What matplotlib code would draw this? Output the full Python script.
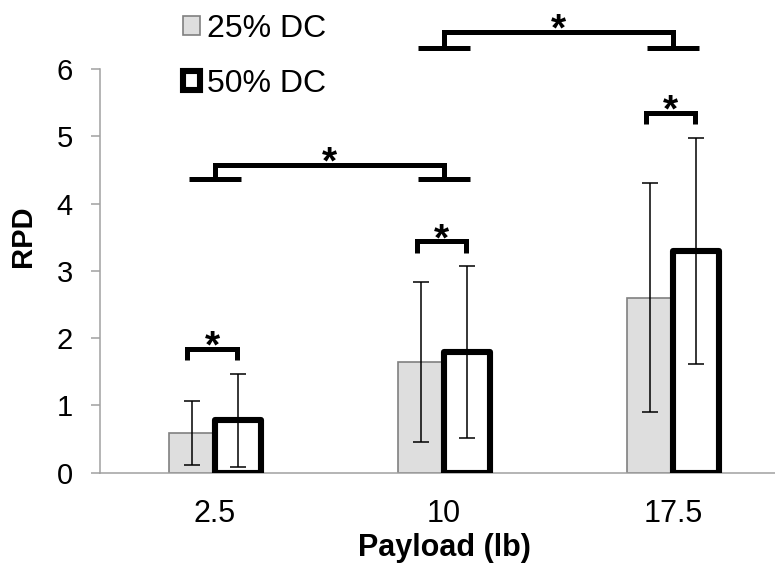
import matplotlib
matplotlib.use('Agg')
import matplotlib.pyplot as plt
import numpy as np

plt.rcParams['font.family'] = ['Liberation Sans', 'DejaVu Sans']

categories = ['2.5', '10', '17.5']
dc25_mean = [0.59, 1.65, 2.60]
dc25_err = [0.48, 1.19, 1.70]
dc50_mean = [0.78, 1.79, 3.30]
dc50_err = [0.69, 1.28, 1.68]
series_labels = ['25% DC', '50% DC']
yticks = [0, 1, 2, 3, 4, 5, 6]

W, H = 775, 563
fig = plt.figure(figsize=(W / 100, H / 100), dpi=100)
ax = fig.add_axes([100 / W, (H - 472.7) / H, 675 / W, (472.7 - 69) / H])

x = np.arange(len(categories))
bw = 0.2
b1 = ax.bar(x - 0.1, dc25_mean, bw, color='#DEDEDE', edgecolor='#808080',
            linewidth=1.2, zorder=2, label=series_labels[0])
b2 = ax.bar(x + 0.1, dc50_mean, bw, color='white', edgecolor='black',
            linewidth=4.4, joinstyle='round', zorder=3, label=series_labels[1])
ax.errorbar(x - 0.1, dc25_mean, yerr=dc25_err, fmt='none', ecolor='black',
            elinewidth=1.1, capsize=5.5, capthick=1.1, zorder=4)
ax.errorbar(x + 0.1, dc50_mean, yerr=dc50_err, fmt='none', ecolor='black',
            elinewidth=1.1, capsize=5.5, capthick=1.1, zorder=4)

ax.set_xlim(-0.502, 2.445)
ax.set_ylim(0, 6)
ax.set_yticks(yticks)
ax.set_xticks(x)
ax.set_xticklabels(categories)
for s in ['top', 'right']:
    ax.spines[s].set_visible(False)
for s in ['left', 'bottom']:
    ax.spines[s].set_color('#A0A0A0')
    ax.spines[s].set_linewidth(1.1)
ax.tick_params(axis='y', direction='out', length=6.5, width=1.1, color='#A0A0A0',
               labelsize=21, pad=13)
ax.tick_params(axis='x', length=0, labelsize=22, pad=19)

LW = 3.6
star_fs = 28


def star(xc, yline):
    ax.annotate('*', xy=(xc, yline), xytext=(0, 9.6 - 0.57 * star_fs),
                textcoords='offset points', ha='center', va='baseline',
                fontsize=star_fs, fontweight='bold', annotation_clip=False)


# small brackets within each payload
for i in range(len(categories)):
    top = dc50_mean[i] + dc50_err[i] + 0.37
    x0, x1 = x[i] - 0.12, x[i] + 0.095
    ax.plot([x0, x0, x1, x1], [top - 0.17, top, top, top - 0.17], color='black',
            lw=LW, solid_joinstyle='miter', solid_capstyle='butt', clip_on=False, zorder=5)
    star((x0 + x1) / 2, top)

# big brackets between payloads
for (i, j, top, foot) in [(0, 1, 4.58, 4.37), (1, 2, 6.55, 6.31)]:
    ax.plot([x[i], x[i], x[j], x[j]], [foot, top, top, foot], color='black',
            lw=LW, solid_joinstyle='miter', solid_capstyle='butt', clip_on=False, zorder=5)
    for k in (i, j):
        ax.plot([x[k] - 0.115, x[k] + 0.115], [foot, foot], color='black', lw=LW,
                solid_capstyle='butt', clip_on=False, zorder=5)
    star((x[i] + x[j]) / 2, top)

leg = ax.legend(handles=[b1, b2], labels=series_labels, loc='upper left',
                bbox_to_anchor=(183 / W, 1 - 14 / H), bbox_transform=fig.transFigure,
                frameon=False, fontsize=23, handlelength=0.53, handleheight=0.53,
                handletextpad=0.22, labelspacing=0.78, borderpad=0, borderaxespad=0)

fig.text(23 / W, 1 - 236 / H, 'RPD', rotation=90, ha='center', va='center',
         fontsize=21, fontweight='bold')
fig.text(444 / W, 1 - 556 / H, 'Payload (lb)', ha='center', va='baseline',
         fontsize=22, fontweight='bold')

fig.savefig('out.png', dpi=100)
